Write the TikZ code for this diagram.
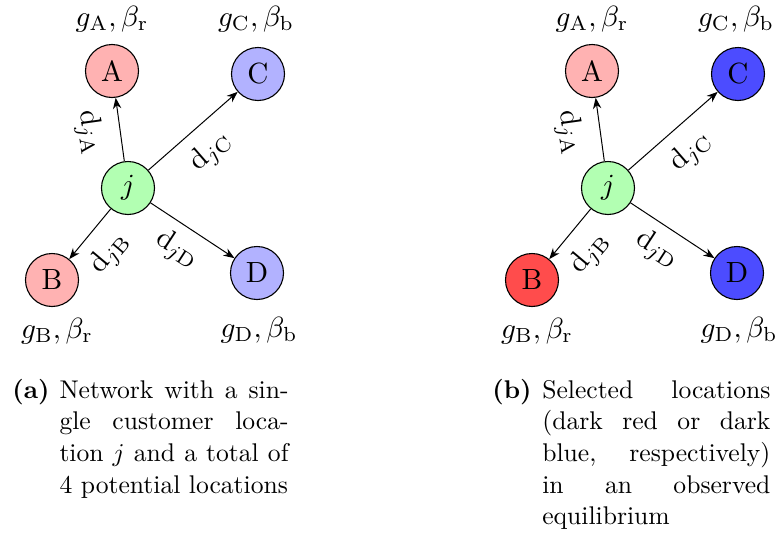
\documentclass[tikz,border=0pt]{standalone}
\usepackage{graphicx}
\usetikzlibrary{arrows.meta}
\newcommand\ptxt[1]{\scalebox{1.46}{#1}}
\newcommand\ctxt[1]{\scalebox{1.28}{#1}}
\begin{document}
\begin{tikzpicture}[x=0.5pt,y=-0.5pt,
  loc/.style={circle,draw,line width=0.55pt,minimum size=26.5pt,inner sep=0pt,font=\fontsize{10}{12}\selectfont},
  arr/.style={-{Stealth[length=5.5pt,width=4.2pt]},line width=0.5pt},
  lab/.style={font=\fontsize{10}{12}\selectfont,inner sep=0pt},
  captext/.style={anchor=base west,inner sep=0pt,font=\fontsize{10}{12.4}\selectfont}]
\useasboundingbox (0,0) rectangle (778,536);
% panel (a)
\node[loc,fill=red!30]   (aA) at (112,71)  {\ptxt{A}};
\node[loc,fill=blue!30]  (aC) at (258,74)  {\ptxt{C}};
\node[loc,fill=green!30] (aj) at (128,188) {\ptxt{$j$}};
\node[loc,fill=red!30]   (aB) at (52,280)  {\ptxt{B}};
\node[loc,fill=blue!30]  (aD) at (257,273) {\ptxt{D}};
\draw[arr] (aj) -- (aA);
\draw[arr] (aj) -- (aC);
\draw[arr] (aj) -- (aB);
\draw[arr] (aj) -- (aD);
\node[lab,rotate=-82] (adA) at (89,133) {\ptxt{$\mathrm{d}_{j\mathrm{A}}$}};
\node[lab,rotate=41]  (adC) at (211,152) {\ptxt{$\mathrm{d}_{j\mathrm{C}}$}};
\node[lab,rotate=50]  (adB) at (110,253) {\ptxt{$\mathrm{d}_{j\mathrm{B}}$}};
\node[lab,rotate=-33] (adD) at (177,250) {\ptxt{$\mathrm{d}_{j\mathrm{D}}$}};
\node[lab] (agA) at (112,19)  {\ptxt{$g_{\mathrm{A}},\beta_{\mathrm{r}}$}};
\node[lab] (agC) at (256,19)  {\ptxt{$g_{\mathrm{C}},\beta_{\mathrm{b}}$}};
\node[lab] (agB) at (57,331)  {\ptxt{$g_{\mathrm{B}},\beta_{\mathrm{r}}$}};
\node[lab] (agD) at (259,330) {\ptxt{$g_{\mathrm{D}},\beta_{\mathrm{b}}$}};
\node[captext] (capa) at (12,398) {\ctxt{\makebox[18.4pt][l]{\textbf{(a)}}\parbox[t]{89.5pt}{Network with a sin-\linebreak gle customer loca-\linebreak tion $j$ and a total of\linebreak 4 potential locations}}};
% panel (b)
\node[loc,fill=red!30]   (bA) at (592,71)  {\ptxt{A}};
\node[loc,fill=blue!70]  (bC) at (738,74)  {\ptxt{C}};
\node[loc,fill=green!30] (bj) at (608,188) {\ptxt{$j$}};
\node[loc,fill=red!70]   (bB) at (532,280) {\ptxt{B}};
\node[loc,fill=blue!70]  (bD) at (737,273) {\ptxt{D}};
\draw[arr] (bj) -- (bA);
\draw[arr] (bj) -- (bC);
\draw[arr] (bj) -- (bB);
\draw[arr] (bj) -- (bD);
\node[lab,rotate=-82] (bdA) at (569,133) {\ptxt{$\mathrm{d}_{j\mathrm{A}}$}};
\node[lab,rotate=41]  (bdC) at (691,152) {\ptxt{$\mathrm{d}_{j\mathrm{C}}$}};
\node[lab,rotate=50]  (bdB) at (590,253) {\ptxt{$\mathrm{d}_{j\mathrm{B}}$}};
\node[lab,rotate=-33] (bdD) at (657,250) {\ptxt{$\mathrm{d}_{j\mathrm{D}}$}};
\node[lab] (bgA) at (592,19)  {\ptxt{$g_{\mathrm{A}},\beta_{\mathrm{r}}$}};
\node[lab] (bgC) at (736,19)  {\ptxt{$g_{\mathrm{C}},\beta_{\mathrm{b}}$}};
\node[lab] (bgB) at (537,331) {\ptxt{$g_{\mathrm{B}},\beta_{\mathrm{r}}$}};
\node[lab] (bgD) at (739,330) {\ptxt{$g_{\mathrm{D}},\beta_{\mathrm{b}}$}};
\node[captext] (capb) at (492,398) {\ctxt{\makebox[19.5pt][l]{\textbf{(b)}}\parbox[t]{89.1pt}{Selected locations\linebreak (dark red or dark\linebreak blue, respectively)\linebreak in an observed\linebreak equilibrium}}};
\end{tikzpicture}
\end{document}
